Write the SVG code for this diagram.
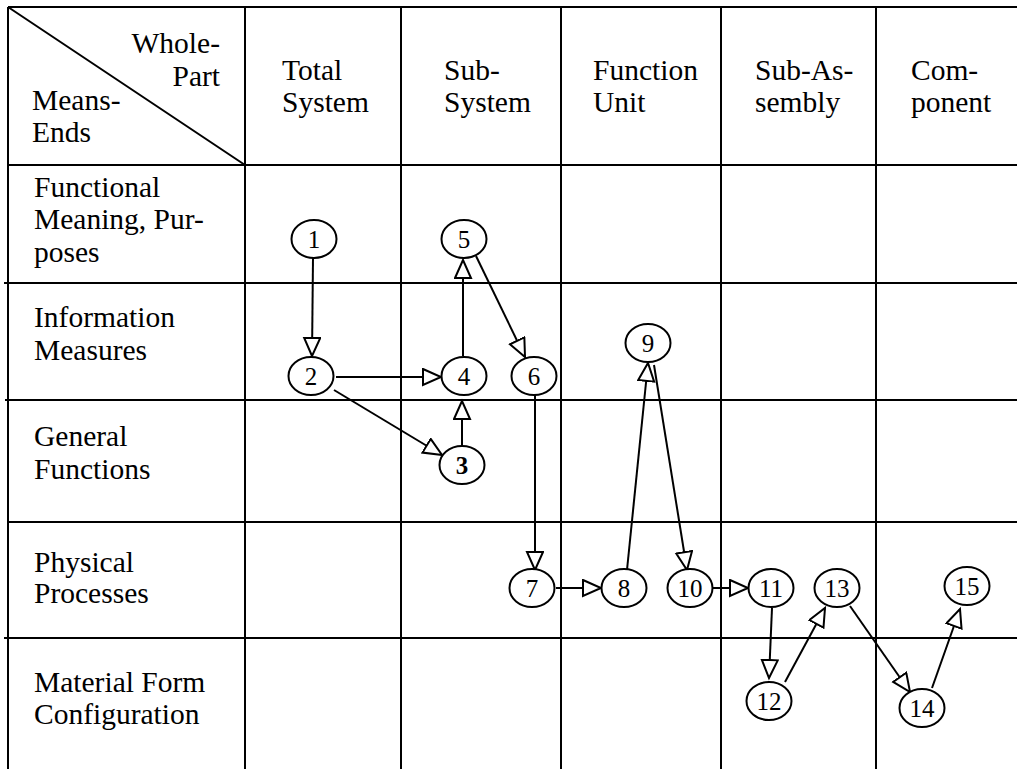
<svg xmlns="http://www.w3.org/2000/svg" width="1017" height="769" viewBox="0 0 1017 769">
  <style>
    .grid { stroke: #000; stroke-width: 2; fill: none; }
    .hdr { font-size: 29.5px; fill: #000; }
    .node ellipse { fill: #fff; stroke: #000; stroke-width: 2; }
    .node text { font-size: 25px; fill: #000; text-anchor: middle; }
    .edge { stroke: #000; stroke-width: 2; fill: none; marker-end: url(#tri); }
  </style>
  <defs>
    <marker id="tri" markerUnits="userSpaceOnUse" markerWidth="22" markerHeight="20" refX="19" refY="9" orient="auto">
      <path d="M1,1 L19,9 L1,17 Z" fill="#fff" stroke="#000" stroke-width="2" stroke-linejoin="miter"/>
    </marker>
  </defs>
  <rect width="1017" height="769" fill="#fff"/>

  <!-- table grid -->
  <g id="grid" class="grid">
    <line x1="8" y1="7" x2="1017" y2="7"/>
    <line x1="8" y1="165" x2="1017" y2="165"/>
    <line x1="4" y1="283" x2="1017" y2="283"/>
    <line x1="5" y1="400" x2="1017" y2="400"/>
    <line x1="8" y1="522" x2="1017" y2="522"/>
    <line x1="4" y1="638" x2="1017" y2="638"/>
    <line x1="8" y1="7" x2="8" y2="769"/>
    <line x1="245" y1="7" x2="245" y2="769"/>
    <line x1="401" y1="7" x2="401" y2="769"/>
    <line x1="561" y1="7" x2="561" y2="769"/>
    <line x1="721" y1="7" x2="721" y2="769"/>
    <line x1="876" y1="7" x2="876" y2="769"/>
    <line x1="8" y1="7" x2="245" y2="165"/>
  </g>

  <!-- header labels -->
  <g id="headers" class="hdr" font-family="Liberation Serif, DejaVu Serif, serif">
    <text x="220" y="53" text-anchor="end">Whole-</text>
    <text x="220" y="86" text-anchor="end">Part</text>
    <text x="32" y="110">Means-</text>
    <text x="32" y="142">Ends</text>
    <text x="282" y="80">Total</text>
    <text x="282" y="112">System</text>
    <text x="444" y="80">Sub-</text>
    <text x="444" y="112">System</text>
    <text x="593" y="80">Function</text>
    <text x="593" y="112">Unit</text>
    <text x="755" y="80">Sub-As-</text>
    <text x="755" y="112">sembly</text>
    <text x="911" y="80">Com-</text>
    <text x="911" y="112">ponent</text>
  </g>

  <!-- row labels -->
  <g id="rows" class="hdr" font-family="Liberation Serif, DejaVu Serif, serif">
    <text x="34" y="197">Functional</text>
    <text x="34" y="229">Meaning, Pur-</text>
    <text x="34" y="262">poses</text>
    <text x="34" y="327">Information</text>
    <text x="34" y="360">Measures</text>
    <text x="34" y="446">General</text>
    <text x="34" y="479">Functions</text>
    <text x="34" y="572">Physical</text>
    <text x="34" y="603">Processes</text>
    <text x="34" y="692">Material Form</text>
    <text x="34" y="724">Configuration</text>
  </g>

  <!-- connectors -->
  <g id="connectors">
    <line class="edge" x1="313" y1="258" x2="312" y2="356"/>
    <line class="edge" x1="336" y1="377" x2="441" y2="377"/>
    <line class="edge" x1="334" y1="390" x2="442" y2="455"/>
    <line class="edge" x1="462" y1="446" x2="462" y2="401"/>
    <line class="edge" x1="463" y1="356" x2="463" y2="260"/>
    <line class="edge" x1="476" y1="256" x2="525" y2="357"/>
    <line class="edge" x1="535" y1="394" x2="535" y2="570"/>
    <line class="edge" x1="556" y1="588" x2="601" y2="588"/>
    <line class="edge" x1="627" y1="570" x2="648" y2="363"/>
    <line class="edge" x1="654" y1="365" x2="687" y2="570"/>
    <line class="edge" x1="713" y1="588" x2="748" y2="588"/>
    <line class="edge" x1="772" y1="608" x2="769" y2="678"/>
    <line class="edge" x1="785" y1="682" x2="825" y2="608"/>
    <line class="edge" x1="850" y1="606" x2="910" y2="692"/>
    <line class="edge" x1="932" y1="688" x2="960" y2="609"/>
  </g>

  <!-- nodes -->
  <g font-family="Liberation Serif, DejaVu Serif, serif">
    <g id="n1" class="node"><ellipse cx="314" cy="239" rx="22.5" ry="19"/><text x="314" y="248">1</text></g>
    <g id="n2" class="node"><ellipse cx="311" cy="376" rx="22.5" ry="19"/><text x="311" y="385">2</text></g>
    <g id="n3" class="node"><ellipse cx="462" cy="465" rx="22.5" ry="19"/><text x="462" y="474" font-weight="bold">3</text></g>
    <g id="n4" class="node"><ellipse cx="464" cy="376" rx="22.5" ry="19"/><text x="464" y="385">4</text></g>
    <g id="n5" class="node"><ellipse cx="464" cy="239" rx="22.5" ry="19"/><text x="464" y="248">5</text></g>
    <g id="n6" class="node"><ellipse cx="534" cy="376" rx="22.5" ry="19"/><text x="534" y="385">6</text></g>
    <g id="n7" class="node"><ellipse cx="532" cy="588" rx="22.5" ry="19"/><text x="532" y="597">7</text></g>
    <g id="n8" class="node"><ellipse cx="624" cy="588" rx="22.5" ry="19"/><text x="624" y="597">8</text></g>
    <g id="n9" class="node"><ellipse cx="648" cy="343" rx="22.5" ry="19"/><text x="648" y="352">9</text></g>
    <g id="n10" class="node"><ellipse cx="690" cy="588" rx="22.5" ry="19"/><text x="690" y="597">10</text></g>
    <g id="n11" class="node"><ellipse cx="771" cy="588" rx="22.5" ry="19"/><text x="771" y="597">11</text></g>
    <g id="n12" class="node"><ellipse cx="769" cy="701" rx="22.5" ry="19"/><text x="769" y="710">12</text></g>
    <g id="n13" class="node"><ellipse cx="837" cy="588" rx="22.5" ry="19"/><text x="837" y="597">13</text></g>
    <g id="n14" class="node"><ellipse cx="922" cy="708" rx="22.5" ry="19"/><text x="922" y="717">14</text></g>
    <g id="n15" class="node"><ellipse cx="967" cy="586" rx="22.5" ry="19"/><text x="967" y="595">15</text></g>
  </g>
</svg>
